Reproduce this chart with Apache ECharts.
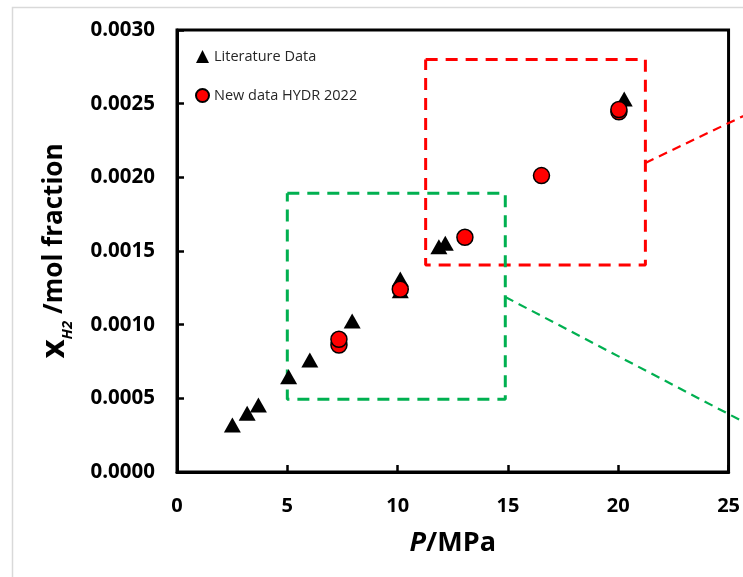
<!DOCTYPE html>
<html>
<head>
<meta charset="utf-8">
<script src="https://cdn.jsdelivr.net/npm/echarts@6/dist/echarts.min.js"></script>
<style>html,body{margin:0;padding:0;background:#fff}#c{width:743px;height:577px}</style>
</head>
<body>
<div id="c"></div>
<script>
// Literature data (triangles)
const pressureLit = [2.51, 3.18, 3.69, 5.06, 6.02, 7.94, 10.12, 10.12, 11.87, 12.16, 20.27];
const fractionLit = [0.000319, 0.000398, 0.000455, 0.000647, 0.00076, 0.001025, 0.00131, 0.00123, 0.001528, 0.001553, 0.002532];
// New data HYDR 2022 (circles)
const pressureNew = [7.34, 7.34, 10.12, 13.05, 16.52, 20.03, 20.03];
const fractionNew = [0.000862, 0.000901, 0.00124, 0.001593, 0.002012, 0.002445, 0.00246];
// Annotation boxes and connector lines (data units)
const redBoxP = [11.27, 21.23, 21.23, 11.27, 11.27];
const redBoxX = [0.0028, 0.0028, 0.001405, 0.001405, 0.0028];
const redLinkP = [21.23, 26];
const redLinkX = [0.002098, 0.00244];
const greenBoxP = [5.0, 14.88, 14.88, 5.0, 5.0];
const greenBoxX = [0.001892, 0.001892, 0.000493, 0.000493, 0.001892];
const greenLinkP = [14.88, 26];
const greenLinkX = [0.001188, 0.000315];
const xTicks = [0, 5, 10, 15, 20, 25];
const yTicks = [0, 0.0005, 0.001, 0.0015, 0.002, 0.0025, 0.003];

const zip = (a, b) => a.map((v, i) => [v, b[i]]);
const FONT = '"Open Sans", sans-serif';
const frame = {
  type: 'rect', id: 'frame', silent: true, z: -10,
  shape: { x: 12.5, y: 7.5, width: 900, height: 800 },
  style: { fill: 'none', stroke: '#d9d9d9', lineWidth: 1.5 }
};

const chart = echarts.init(document.getElementById('c'));
chart.setOption({
  animation: false,
  backgroundColor: '#fff',
  textStyle: { fontFamily: FONT },
  graphic: [frame],
  grid: {
    left: 177, top: 30, right: 11, bottom: 105,
    show: true, borderColor: '#000', borderWidth: 3, backgroundColor: 'transparent'
  },
  legend: {
    data: ['Literature Data', 'New data HYDR 2022'],
    orient: 'vertical', left: 190, top: 44,
    itemWidth: 13, itemHeight: 13, itemGap: 24,
    textStyle: { fontFamily: FONT, fontSize: 14.5, color: '#262626' }
  },
  xAxis: {
    type: 'value', min: xTicks[0], max: xTicks[xTicks.length - 1], interval: 5,
    name: '{i|P}{n|/MPa}', nameLocation: 'middle', nameGap: 58,
    nameTextStyle: {
      rich: {
        i: { fontFamily: FONT, fontSize: 27, fontWeight: 'bold', fontStyle: 'italic', color: '#000' },
        n: { fontFamily: FONT, fontSize: 27, fontWeight: 'bold', color: '#000' }
      }
    },
    axisLine: { show: true, lineStyle: { color: '#000', width: 3 } },
    axisTick: { show: true, inside: true, length: 7, lineStyle: { color: '#000', width: 2.5 } },
    axisLabel: { margin: 24, fontFamily: FONT, fontSize: 20, fontWeight: 'bold', color: '#000' },
    splitLine: { show: false }
  },
  yAxis: {
    type: 'value', min: yTicks[0], max: yTicks[yTicks.length - 1], interval: 0.0005,
    name: '{x|x}{s|H2}{n| /mol fraction}', nameLocation: 'middle', nameGap: 106, nameRotate: 90,
    nameTextStyle: {
      rich: {
        x: { fontFamily: FONT, fontSize: 33, fontWeight: 'bold', color: '#000' },
        s: { fontFamily: FONT, fontSize: 15, fontStyle: 'italic', fontWeight: 'bold', color: '#000', verticalAlign: 'bottom', padding: [0, 0, -4, 0] },
        n: { fontFamily: FONT, fontSize: 26, fontWeight: 'bold', color: '#000' }
      }
    },
    axisLine: { show: true, lineStyle: { color: '#000', width: 3 } },
    axisTick: { show: true, inside: true, length: 7, lineStyle: { color: '#000', width: 2.5 } },
    axisLabel: { margin: 22, fontFamily: FONT, fontSize: 20.5, fontWeight: 'bold', color: '#000', formatter: v => v.toFixed(4) },
    splitLine: { show: false }
  },
  series: [
    { name: 'redBox', type: 'line', data: zip(redBoxP, redBoxX), symbol: 'none', clip: false, silent: true, z: 1,
      lineStyle: { color: '#ff0000', width: 3, type: [12, 8] } },
    { name: 'greenBox', type: 'line', data: zip(greenBoxP, greenBoxX), symbol: 'none', clip: false, silent: true, z: 1,
      lineStyle: { color: '#00b050', width: 3, type: [12, 8] } },
    { name: 'Literature Data', type: 'scatter', data: zip(pressureLit, fractionLit), symbol: 'triangle', symbolSize: [17, 15], z: 3,
      itemStyle: { color: '#000', opacity: 1 } },
    { name: 'New data HYDR 2022', type: 'scatter', data: zip(pressureNew, fractionNew), symbol: 'circle', symbolSize: 16, z: 4,
      itemStyle: { color: '#ff0000', borderColor: '#000', borderWidth: 1.5, opacity: 1 } }
  ]
});

// Connector lines extend past the plot edge: place them through the chart's own scales.
function link(id, P, X, color) {
  const a = chart.convertToPixel({ gridIndex: 0 }, [P[0], X[0]]);
  const b = chart.convertToPixel({ gridIndex: 0 }, [P[1], X[1]]);
  return {
    type: 'line', id: id, silent: true, z: 5,
    shape: { x1: a[0], y1: a[1], x2: b[0], y2: b[1] },
    style: { stroke: color, lineWidth: 2.2, lineDash: [9, 6] }
  };
}
chart.setOption({
  graphic: [frame,
    link('redLink', redLinkP, redLinkX, '#ff0000'),
    link('greenLink', greenLinkP, greenLinkX, '#00b050')]
});
</script>
</body>
</html>
